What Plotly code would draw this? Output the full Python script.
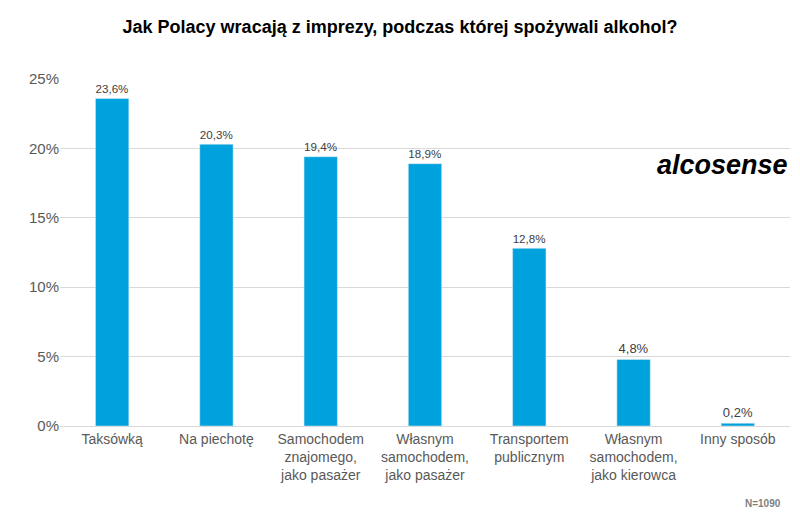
import plotly.graph_objects as go

categories = ["Taksówką", "Na piechotę", "Samochodem<br>znajomego,<br>jako pasażer",
              "Własnym<br>samochodem,<br>jako pasażer", "Transportem<br>publicznym",
              "Własnym<br>samochodem,<br>jako kierowca", "Inny sposób"]
values = [23.6, 20.3, 19.4, 18.9, 12.8, 4.8, 0.2]
labels = [f"{v:.1f}%".replace(".", ",") for v in values]

fig = go.Figure()
fig.add_trace(go.Bar(x=categories, y=values, text=labels, textposition="outside",
                     marker_color="#00A2DE", width=0.32,
                     textfont=dict(size=13, color="#404040"), cliponaxis=False))

# page body has an 8px margin, so the figure is sized to fit the 800x519 window
fig.update_layout(
    width=784, height=503, plot_bgcolor="white", paper_bgcolor="white",
    font=dict(family="Arial, Liberation Sans", color="#595959"),
    title=dict(text="<b>Jak Polacy wracają z imprezy, podczas której spożywali alkohol?</b>",
               x=0.5, y=0.975, xanchor="center", font=dict(size=18, color="#000")),
    margin=dict(l=52, r=2, t=71, b=85),
    showlegend=False, bargap=0.68,
    yaxis=dict(range=[0, 25], dtick=5, ticksuffix="%", gridcolor="#D9D9D9",
               tickfont=dict(size=15), zeroline=False),
    xaxis=dict(tickfont=dict(size=14), showline=True, linecolor="#D9D9D9"),
)
fig.add_annotation(text="<b><i>alcosense</i></b>", xref="paper", yref="paper",
                   x=1.0, y=0.8, xanchor="right", showarrow=False,
                   font=dict(size=27, color="#000"))
fig.add_annotation(text="<b>N=1090</b>", xref="paper", yref="paper", x=0.99, y=-0.245,
                   xanchor="right", yanchor="bottom", showarrow=False,
                   font=dict(size=10, color="#7F7F7F"))
fig.write_html("out.html")
